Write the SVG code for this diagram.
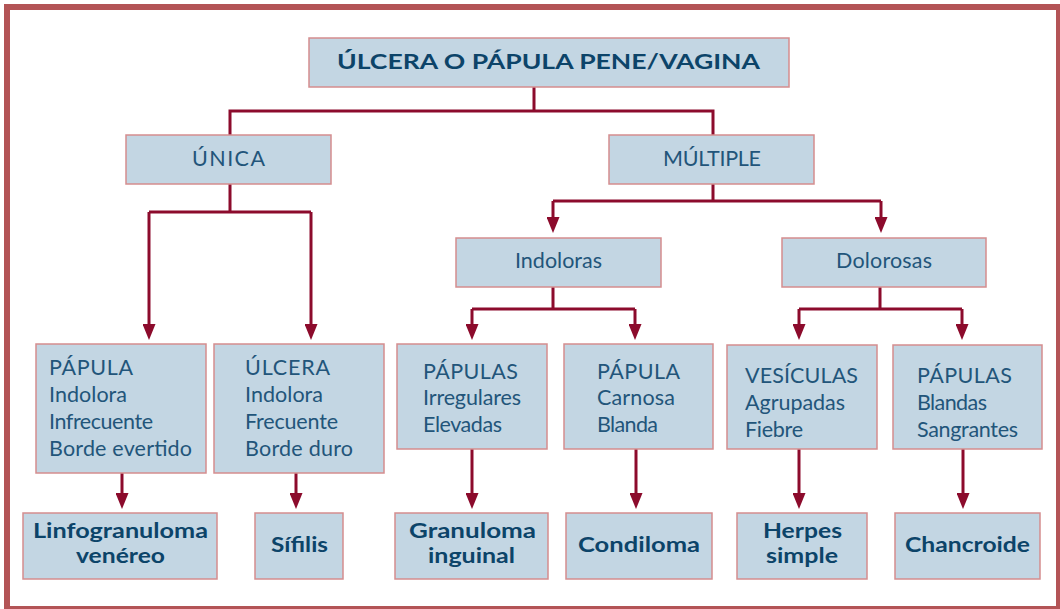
<svg xmlns="http://www.w3.org/2000/svg" width="1060" height="609" viewBox="0 0 1060 609">
<defs>
<style>
.box{fill:#c3d6e3;stroke:#d58d8e;stroke-width:1.5}
.t{font-family:Lato,"Open Sans","Liberation Sans",sans-serif;font-size:21.5px;fill:#22557a}
.b{font-weight:700;font-size:21.5px;fill:#0c4469}
.c{fill:none;stroke:#8c0b2c;stroke-width:3}
.a{fill:none;stroke:#8c0b2c;stroke-width:3;marker-end:url(#ah)}
</style>
<marker id="ah" viewBox="0 0 16 13" refX="8" refY="6.5" markerWidth="16" markerHeight="13" markerUnits="userSpaceOnUse" orient="auto">
<path d="M0,0 L16,6.5 L0,13 Z" fill="#8c0b2c"/>
</marker>
</defs>
<rect x="7" y="7" width="1052" height="602" fill="#ffffff" stroke="#b35456" stroke-width="6"/>

<g id="connectors">
<path class="c" d="M534,87 V111 M230,135 V111 H713 V135"/>
<path class="c" d="M230,184 V212 M149,212 H311"/>
<path class="a" d="M149,212 V332"/>
<path class="a" d="M311,212 V332"/>
<path class="c" d="M713,184 V201 M553,201 H881"/>
<path class="a" d="M553,201 V225"/>
<path class="a" d="M881,201 V225"/>
<path class="c" d="M553,287 V309 M472,309 H635"/>
<path class="a" d="M472,309 V332"/>
<path class="a" d="M635,309 V332"/>
<path class="c" d="M880,287 V309 M799,309 H962"/>
<path class="a" d="M799,309 V332"/>
<path class="a" d="M962,309 V332"/>
<path class="a" d="M122,473 V501"/>
<path class="a" d="M296,473 V501"/>
<path class="a" d="M472,449 V501"/>
<path class="a" d="M636,449 V501"/>
<path class="a" d="M799,449 V501"/>
<path class="a" d="M963,449 V501"/>
</g>

<g id="root">
<rect class="box" x="309" y="38" width="480" height="49"/>
<text class="t b" x="337" y="69" textLength="423" lengthAdjust="spacingAndGlyphs">ÚLCERA O PÁPULA PENE/VAGINA</text>
</g>

<g id="unica">
<rect class="box" x="126" y="135" width="205" height="49"/>
<text class="t" x="192" y="166" textLength="73">ÚNICA</text>
</g>

<g id="multiple">
<rect class="box" x="609" y="135" width="205" height="49"/>
<text class="t" x="663" y="166" textLength="98">MÚLTIPLE</text>
</g>

<g id="indoloras">
<rect class="box" x="456" y="238" width="205" height="49"/>
<text class="t" x="515" y="268" textLength="87">Indoloras</text>
</g>

<g id="dolorosas">
<rect class="box" x="782" y="238" width="204" height="49"/>
<text class="t" x="836" y="268" textLength="96">Dolorosas</text>
</g>

<g id="papula-lgv">
<rect class="box" x="36" y="344" width="170" height="129"/>
<text class="t" x="49" y="375" textLength="84">PÁPULA</text>
<text class="t" x="49" y="402" textLength="78">Indolora</text>
<text class="t" x="49" y="429" textLength="104">Infrecuente</text>
<text class="t" x="49" y="456" textLength="143">Borde evertido</text>
</g>

<g id="ulcera-sifilis">
<rect class="box" x="214" y="344" width="170" height="129"/>
<text class="t" x="245" y="375" textLength="85">ÚLCERA</text>
<text class="t" x="245" y="402" textLength="78">Indolora</text>
<text class="t" x="245" y="429" textLength="93">Frecuente</text>
<text class="t" x="245" y="456" textLength="108">Borde duro</text>
</g>

<g id="papulas-granuloma">
<rect class="box" x="397" y="344" width="150" height="105"/>
<text class="t" x="423" y="379" textLength="95">PÁPULAS</text>
<text class="t" x="423" y="405" textLength="98">Irregulares</text>
<text class="t" x="423" y="432" textLength="79">Elevadas</text>
</g>

<g id="papula-condiloma">
<rect class="box" x="564" y="344" width="149" height="105"/>
<text class="t" x="597" y="379" textLength="83">PÁPULA</text>
<text class="t" x="597" y="405" textLength="78">Carnosa</text>
<text class="t" x="597" y="432" textLength="61">Blanda</text>
</g>

<g id="vesiculas-herpes">
<rect class="box" x="727" y="345" width="150" height="104"/>
<text class="t" x="745" y="383" textLength="113">VESÍCULAS</text>
<text class="t" x="745" y="410" textLength="100">Agrupadas</text>
<text class="t" x="745" y="437" textLength="58">Fiebre</text>
</g>

<g id="papulas-chancroide">
<rect class="box" x="893" y="345" width="149" height="104"/>
<text class="t" x="917" y="383" textLength="95">PÁPULAS</text>
<text class="t" x="917" y="410" textLength="70">Blandas</text>
<text class="t" x="917" y="437" textLength="101">Sangrantes</text>
</g>

<g id="linfogranuloma">
<rect class="box" x="23" y="513" width="194" height="66"/>
<text class="t b" x="33" y="538" textLength="175" lengthAdjust="spacingAndGlyphs">Linfogranuloma</text>
<text class="t b" x="76" y="563" textLength="89" lengthAdjust="spacingAndGlyphs">venéreo</text>
</g>

<g id="sifilis">
<rect class="box" x="255" y="513" width="88" height="66"/>
<text class="t b" x="271" y="552" textLength="57" lengthAdjust="spacingAndGlyphs">Sífilis</text>
</g>

<g id="granuloma">
<rect class="box" x="395" y="513" width="153" height="66"/>
<text class="t b" x="409" y="538" textLength="127" lengthAdjust="spacingAndGlyphs">Granuloma</text>
<text class="t b" x="428" y="563" textLength="87" lengthAdjust="spacingAndGlyphs">inguinal</text>
</g>

<g id="condiloma">
<rect class="box" x="566" y="513" width="146" height="66"/>
<text class="t b" x="578" y="552" textLength="122" lengthAdjust="spacingAndGlyphs">Condiloma</text>
</g>

<g id="herpes">
<rect class="box" x="737" y="513" width="130" height="66"/>
<text class="t b" x="763" y="538" textLength="79" lengthAdjust="spacingAndGlyphs">Herpes</text>
<text class="t b" x="766" y="563" textLength="72" lengthAdjust="spacingAndGlyphs">simple</text>
</g>

<g id="chancroide">
<rect class="box" x="895" y="513" width="145" height="66"/>
<text class="t b" x="905" y="552" textLength="125" lengthAdjust="spacingAndGlyphs">Chancroide</text>
</g>
</svg>
